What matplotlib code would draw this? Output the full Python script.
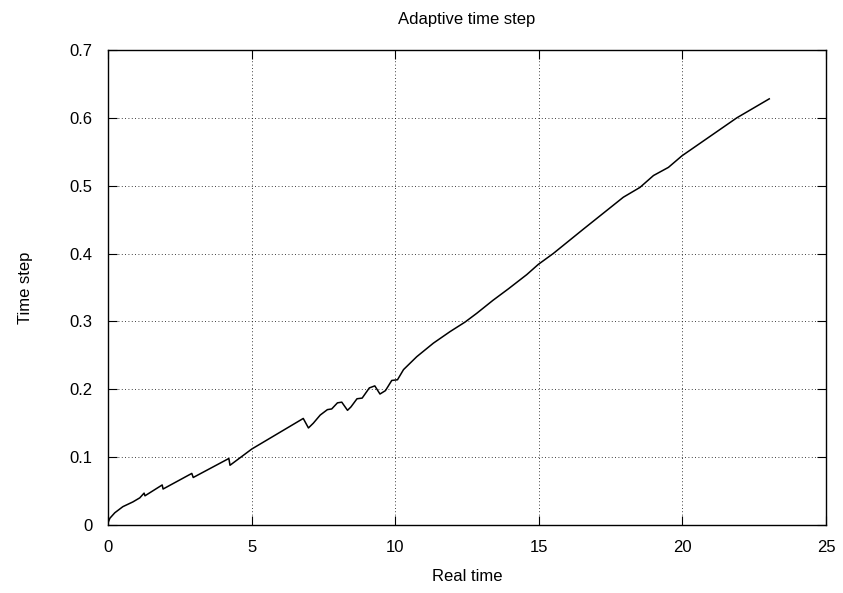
"""
Adaptive time step plot (gnuplot-like look)
"""
import matplotlib
matplotlib.use("Agg")
import matplotlib.pyplot as plt

# values
real_time = [0.0, 0.07, 0.24, 0.52, 0.87, 1.11, 1.26, 1.29, 1.89, 1.92,
             2.92, 2.97, 4.21, 4.25, 5.01, 6.80, 6.98, 7.15, 7.39, 7.64,
             7.79, 7.99, 8.14, 8.34, 8.46, 8.67, 8.85, 9.10, 9.29, 9.47,
             9.66, 9.88, 10.08, 10.29, 10.75, 11.33, 11.91, 12.43, 12.84,
             13.40, 13.94, 14.58, 14.98, 15.5, 16.55, 17.94, 18.52, 18.99,
             19.51, 19.98, 21.89, 23.02]
time_step = [0.003, 0.010, 0.018, 0.027, 0.034, 0.040, 0.047, 0.043, 0.059, 0.053,
             0.076, 0.070, 0.098, 0.088, 0.112, 0.157, 0.143, 0.150, 0.162, 0.170,
             0.171, 0.180, 0.181, 0.169, 0.174, 0.186, 0.187, 0.202, 0.205, 0.193,
             0.198, 0.213, 0.214, 0.229, 0.248, 0.268, 0.285, 0.299, 0.312,
             0.331, 0.348, 0.369, 0.384, 0.400, 0.436, 0.483, 0.4975, 0.515,
             0.527, 0.544, 0.600, 0.628]

xticks = [0, 5, 10, 15, 20, 25]
yticks = [0, 0.1, 0.2, 0.3, 0.4, 0.5, 0.6, 0.7]

plt.rcParams['font.family'] = ['Liberation Sans', 'DejaVu Sans']
plt.rcParams['font.size'] = 12

fig = plt.figure(figsize=(8.43, 5.93), dpi=100)
ax = fig.add_axes([0.128, 0.1147, 0.852, 0.801])

ax.plot(real_time, time_step, color='black', linewidth=1.1)

ax.set_xlim(0, 25)
ax.set_ylim(0, 0.7)
ax.set_xticks(xticks)
ax.set_yticks(yticks)
ax.set_xticklabels([str(t) for t in xticks])
ax.set_yticklabels(['0'] + ['%.1f' % t for t in yticks[1:]])
ax.tick_params(direction='in', length=6.5, width=0.8, top=True, right=True,
               labelsize=12, pad=11)
ax.grid(True, color='black', linestyle=(0, (1, 3)), linewidth=0.6)
for s in ax.spines.values():
    s.set_linewidth(1.0)

ax.set_title('Adaptive time step', fontsize=12, pad=19)
ax.set_xlabel('Real time', fontsize=12, labelpad=10)
ax.set_ylabel('Time step', fontsize=12, labelpad=26)

fig.savefig('out.png', dpi=100)
